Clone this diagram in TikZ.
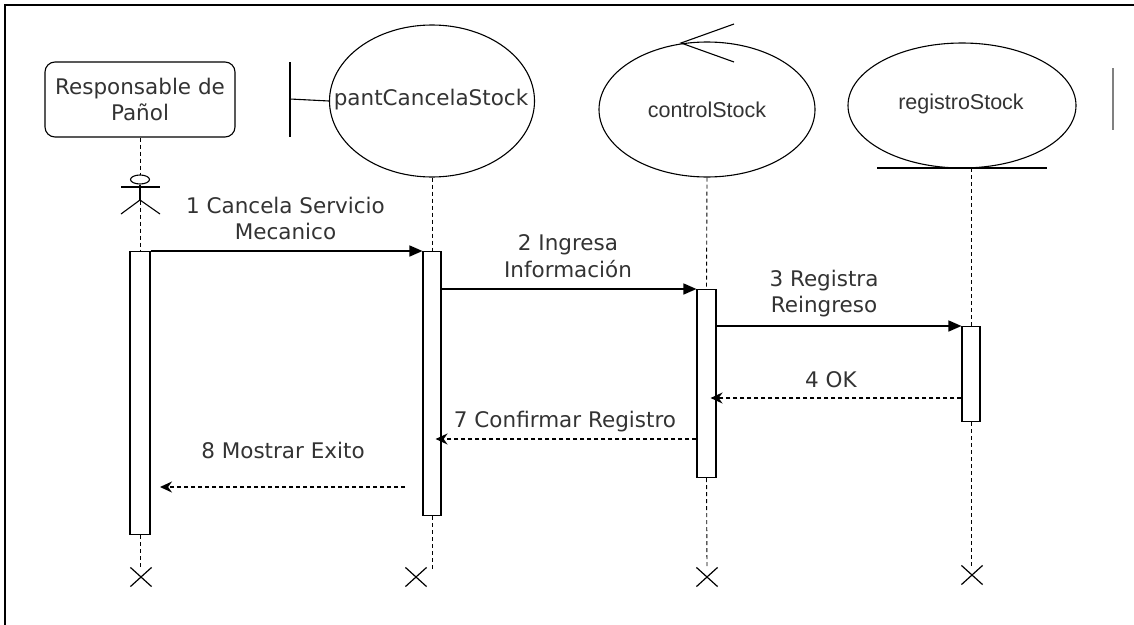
\documentclass[tikz,border=0pt]{standalone}
\usepackage{fontspec}
\setmainfont{DejaVu Sans}
\newfontfamily\arialf{Liberation Sans}
\usetikzlibrary{arrows.meta,shapes.geometric,shapes.misc}
\definecolor{txtgray}{HTML}{333333}
\tikzset{
  lbl/.style={font=\fontsize{21.5}{26.5}\selectfont, text=txtgray, align=center, inner sep=0pt},
  ovalbox/.style={draw, ellipse, line width=1.1pt, inner sep=0pt},
  actbox/.style={draw, fill=white, line width=1.1pt, inner sep=0pt, anchor=north},
  life/.style={dashed, dash pattern=on 4pt off 3pt, line width=0.9pt},
  sync/.style={line width=1.5pt, -{Triangle[length=13pt,width=11pt]}},
  reply/.style={line width=1.5pt, dash pattern=on 4pt off 3pt, -{Stealth[length=12pt,width=11pt]}},
  xmark/.style={draw, cross out, line width=1.2pt, minimum width=20pt, minimum height=18pt, inner sep=0pt},
}
\begin{document}
\begin{tikzpicture}[x=1pt,y=-1pt]
\useasboundingbox (0,0) rectangle (1134,624);
% frame
\draw[line width=2pt] (5,626) -- (5,5) -- (1136,5);

% actor box
\node[draw, rounded corners=10pt, line width=1.1pt, minimum width=190pt, minimum height=75pt, lbl] (actor) at (140,99.5) {Responsable de\\Pañol};

% boundary
\node[ovalbox, minimum width=205pt, minimum height=152pt] (pant) at (432,101) {};
\node[lbl] (pantlbl) at (431,100) {pantCancelaStock};
\coordinate (bnd1) at (290,62);
\coordinate (bnd2) at (290,137);
\draw[line width=1.1pt] (bnd1) -- (bnd2);
\draw[line width=1.1pt] (290,99) -- (pant.west);

% control
\node[ovalbox, minimum width=216pt, minimum height=135pt] (ctl) at (707,109.5) {};
\node[lbl, font=\arialf\fontsize{21.5}{26}\selectfont] (ctllbl) at (707,110) {controlStock};
\coordinate (arrA) at (734,24);
\coordinate (arrB) at (681,43);
\coordinate (arrC) at (734,62);
\draw[line width=1.1pt] (arrA) -- (arrB) -- (arrC);

% entity
\node[ovalbox, minimum width=228pt, minimum height=125pt] (reg) at (962,105.5) {};
\node[lbl, font=\arialf\fontsize{21.5}{26}\selectfont] (reglbl) at (961,104) {registroStock};
\coordinate (und1) at (877,168);
\coordinate (und2) at (1047,168);
\draw[line width=1.4pt] (und1) -- (und2);

% right partial line
\coordinate (rp1) at (1113,68);
\coordinate (rp2) at (1113,130);
\draw[line width=1.1pt, gray] (rp1) -- (rp2);

% activation boxes
\node[actbox, minimum width=20pt, minimum height=283pt] (actA) at (140,251) {};
\node[actbox, minimum width=18pt, minimum height=264pt] (pantA) at (432,251) {};
\node[actbox, minimum width=19pt, minimum height=188pt] (ctlA) at (706.5,289) {};
\node[actbox, minimum width=18pt, minimum height=95pt] (regA) at (971,326) {};

% lifeline tops
\coordinate (regTop) at (971,168);
\draw[life] (actor.south) -- (actA.north);
\draw[life] (pant.south) -- (pantA.north);
\draw[life] (ctl.south) -- (ctlA.north);
\draw[life] (regTop) -- (regA.north);

% stick figure
\node[draw, ellipse, line width=1.1pt, minimum width=19pt, minimum height=9pt, inner sep=0pt, fill=white] (head) at (140,179.5) {};
\coordinate (armL) at (121,187);
\coordinate (armR) at (160,187);
\coordinate (hip) at (140,200);
\coordinate (legL) at (121,214);
\coordinate (legR) at (160,214);
\draw[line width=1.1pt] (armL) -- (armR);
\draw[line width=1.1pt] (head.south) -- (hip);
\draw[line width=1.1pt] (legL) -- (hip) -- (legR);

% end marks
\node[xmark] (xA) at (141,577) {};
\node[xmark] (xP) at (416,577) {};
\node[xmark] (xC) at (707,577) {};
\node[xmark] (xR) at (972,575) {};
\coordinate (endA) at (140,568);
\coordinate (endP) at (432,572);
\coordinate (endC) at (707,568);
\coordinate (endR) at (971,566);
\draw[life] (actA.south) -- (endA);
\draw[life] (pantA.south) -- (endP);
\draw[life] (ctlA.south) -- (endC);
\draw[life] (regA.south) -- (endR);

% messages
\draw[sync] (actA.north east) -- (pantA.north west);
\draw[sync] (pantA.east |- ctlA.north) -- (ctlA.north west);
\draw[sync] (ctlA.east |- regA.north) -- (regA.north west);
\coordinate (m4) at (0,398);
\draw[reply, shorten >=-6pt] (regA.west |- m4) -- (ctlA.east |- m4);
\coordinate (m7) at (0,439);
\draw[reply, shorten >=-6pt] (ctlA.west |- m7) -- (pantA.east |- m7);
\coordinate (m8s) at (405,487);
\coordinate (m8e) at (160,487);
\draw[reply] (m8s) -- (m8e);

% message labels
\node[lbl] (l1) at (285.5,218.5) {1 Cancela Servicio\\Mecanico};
\node[lbl] (l2) at (568,256) {2 Ingresa\\Información};
\node[lbl] (l3) at (824,293.5) {3 Registra\\Reingreso};
\node[lbl] (l4) at (831,380) {4 OK};
\node[lbl] (l7) at (565,422) {7 Confirmar Registro};
\node[lbl] (l8) at (283,450) {8 Mostrar Exito};
\end{tikzpicture}
\end{document}
